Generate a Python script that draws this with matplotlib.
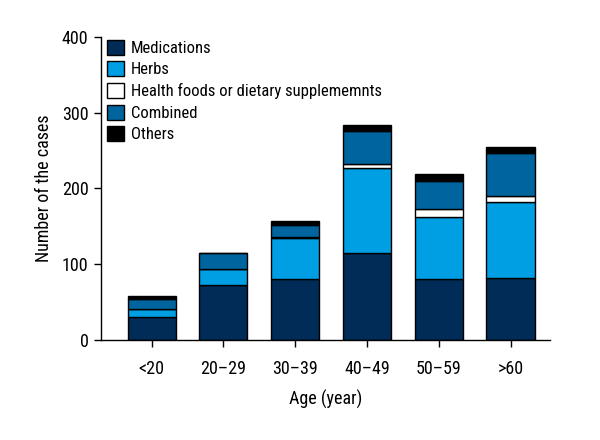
import matplotlib
matplotlib.use("Agg")
import matplotlib.pyplot as plt
from matplotlib import font_manager
import numpy as np

names = {f.name for f in font_manager.fontManager.ttflist}
cands = ['Liberation Sans Narrow', 'Roboto Condensed', 'Open Sans Condensed', 'Noto Sans Condensed',
         'DejaVu Sans Condensed', 'Liberation Sans']
fam = next((c for c in cands if c in names), 'DejaVu Sans')
plt.rcParams['font.family'] = [fam, 'DejaVu Sans']

categories = ['<20', '20–29', '30–39', '40–49', '50–59', '>60']
series_names = ['Medications', 'Herbs', 'Health foods or dietary supplememnts', 'Combined', 'Others']
medications = [30, 72, 80, 114, 80, 81]
herbs = [10, 21, 54, 113, 82, 101]
health = [0, 0, 2, 5, 10, 8]
combined = [13, 21, 16, 44, 38, 57]
others = [5, 0, 5, 7, 9, 8]
colors = ['#002c57', '#009fe3', '#ffffff', '#00649f', '#000000']

fig = plt.figure(figsize=(6, 4.4), dpi=100)
ax = fig.add_axes([101/600, 1-339.5/440, (550-101)/600, (339.5-37)/440])

x = np.arange(len(categories))
bottom = np.zeros(len(categories))
for vals, name, c in zip([medications, herbs, health, combined, others], series_names, colors):
    ax.bar(x, vals, 0.67, bottom=bottom, color=c, edgecolor='black', linewidth=1.0, label=name)
    bottom += np.array(vals)

ax.set_xlim(-0.706, 5.55)
ax.set_ylim(0, 400)
ax.set_yticks([0, 100, 200, 300, 400])
ax.set_xticks(x)
ax.set_xticklabels(categories)
for s in ['top', 'right']:
    ax.spines[s].set_visible(False)
ax.spines['left'].set_linewidth(1.0)
ax.spines['bottom'].set_linewidth(1.0)
ax.tick_params(axis='both', direction='out', length=5, width=1, labelsize=13)
ax.tick_params(axis='x', pad=10)
ax.tick_params(axis='y', pad=4)
ax.set_xlabel('Age (year)', fontsize=13, labelpad=8)
ax.set_ylabel('Number of the cases', fontsize=13, labelpad=6)

leg = ax.legend(loc='upper left', bbox_to_anchor=(-0.012, 1.03), frameon=False, fontsize=12,
                handlelength=1.0, handleheight=1.0, handletextpad=0.4, labelspacing=0.33,
                borderaxespad=0.3)
fig.savefig('out.png', dpi=100)
